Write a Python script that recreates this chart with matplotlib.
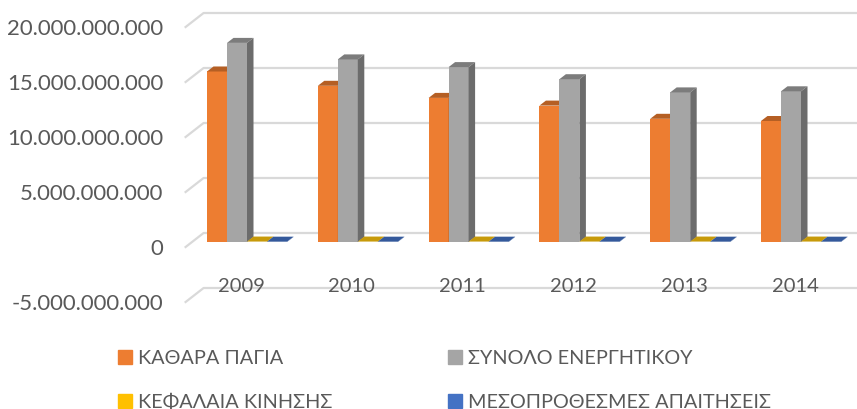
# -*- coding: utf-8 -*-
from matplotlib import pyplot as plt
from matplotlib.patches import Polygon, Patch
from matplotlib.ticker import FuncFormatter
import numpy as np

years = ["2009", "2010", "2011", "2012", "2013", "2014"]
kathara_pagia = [15.5e9, 14.2e9, 13.1e9, 12.4e9, 11.2e9, 11.0e9]
synolo_energitikou = [18.1e9, 16.6e9, 15.9e9, 14.8e9, 13.6e9, 13.7e9]
kefalaia_kinisis = [0.04e9, 0.04e9, 0.04e9, 0.04e9, 0.04e9, 0.04e9]
mesoprothesmes = [0.03e9, 0.03e9, 0.03e9, 0.03e9, 0.03e9, 0.03e9]

series = [
    ("ΚΑΘΑΡΑ ΠΑΓΙΑ", kathara_pagia, "#ED7D31", "#B55F24", "#B55F24"),
    ("ΣΥΝΟΛΟ ΕΝΕΡΓΗΤΙΚΟΥ", synolo_energitikou, "#A5A5A5", "#7C7C7C", "#6C6C6C"),
    ("ΚΕΦΑΛΑΙΑ ΚΙΝΗΣΗΣ", kefalaia_kinisis, "#FFC000", "#C79A0A", "#C79A0A"),
    ("ΜΕΣΟΠΡΟΘΕΣΜΕΣ ΑΠΑΙΤΗΣΕΙΣ", mesoprothesmes, "#4472C4", "#34599B", "#34599B"),
]

W, H = 857, 409
plt.rcParams['font.family'] = ['Lato', 'DejaVu Sans']
TXT = "#595959"

fig = plt.figure(figsize=(W / 100, H / 100), dpi=100)
# front plane of the fake 3d box, pixels
left, right, top, bottom = 185.6, 850.4, 27, 302
ax = fig.add_axes([left / W, 1 - bottom / H, (right - left) / W, (bottom - top) / H])
ax.set_xlim(-0.5, 5.5)
ax.set_ylim(-5e9, 20e9)

# px to data units
ux = 6 / (right - left)
uy = 25e9 / (bottom - top)

# back wall gridlines + left wall diagonals
ticks = np.arange(-5e9, 20.1e9, 5e9)
wall_x, wall_y = 18 * ux, 14 * uy
for t in ticks:
    ax.plot([-0.5, -0.5 + wall_x, 6.5], [t, t + wall_y, t + wall_y], color="#D9D9D9",
            lw=1.6, zorder=1, clip_on=False)

# bars
bar_w = 20 * ux
shift_x, shift_y = 6 * ux, 5 * uy
depth_x, depth_y = 6.5 * ux, 5 * uy
for s, (name, vals, col, col_top, col_side) in enumerate(series):
    x = np.arange(len(years)) + (s - 2) * bar_w + shift_x
    ax.bar(x, vals, width=bar_w, bottom=shift_y, align="edge", color=col, zorder=3 + s)
    for xi, v in zip(x, vals):
        yt = v + shift_y
        ax.add_patch(Polygon([(xi, yt), (xi + bar_w, yt), (xi + bar_w + depth_x, yt + depth_y),
                              (xi + depth_x, yt + depth_y)], color=col_top, lw=0, zorder=3 + s))
        ax.add_patch(Polygon([(xi + bar_w, shift_y), (xi + bar_w + depth_x, shift_y + depth_y),
                              (xi + bar_w + depth_x, yt + depth_y), (xi + bar_w, yt)],
                             color=col_side, lw=0, zorder=3 + s))

for sp in ax.spines.values():
    sp.set_visible(False)
ax.patch.set_visible(False)
ax.set_xticks(range(len(years)))
ax.set_xticklabels(years)
ax.set_yticks(ticks)
ax.yaxis.set_major_formatter(FuncFormatter(lambda v, p: f"{v:,.0f}".replace(",", ".")))
ax.tick_params(axis="x", length=0, pad=-17.5, labelsize=14.5, labelcolor=TXT)
ax.tick_params(axis="y", length=0, pad=16, labelsize=15.9, labelcolor=TXT)
for lab in ax.get_xticklabels():
    lab.set_zorder(10)

handles = [Patch(color=s[2], label=s[0]) for s in series]
# matplotlib fills legend columns first, so order stays top to bottom
leg = fig.legend(handles=[handles[0], handles[2], handles[1], handles[3]], ncol=2, frameon=False,
                 loc="upper left", bbox_to_anchor=(118 / W, 1 - 350 / H), borderaxespad=0, borderpad=0,
                 handlelength=0.72, handleheight=0.72, handletextpad=0.31, labelspacing=1.35,
                 columnspacing=5.8, fontsize=14.3, labelcolor=TXT)

fig.savefig("out.png", dpi=100)
